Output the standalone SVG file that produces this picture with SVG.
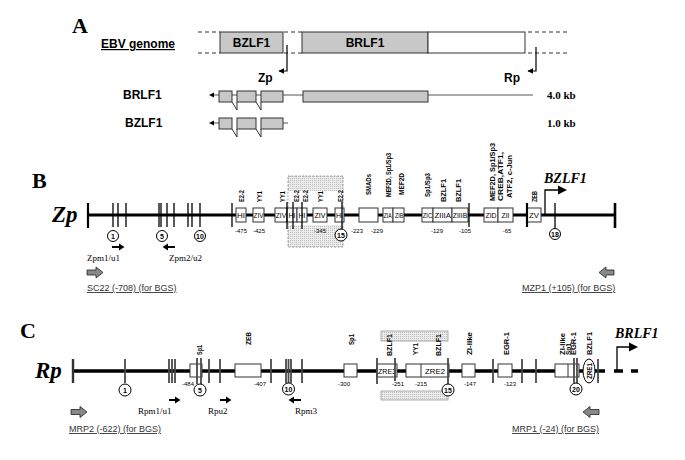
<svg xmlns="http://www.w3.org/2000/svg" width="685" height="460" viewBox="0 0 685 460">
<defs>
<style>
.panel{font-family:"Liberation Serif",serif;font-weight:bold;font-size:22px}
.lab{font-family:"Liberation Sans",Arial,sans-serif;font-weight:bold;font-size:12px}
.kb{font-family:"Liberation Serif",serif;font-weight:bold;font-size:11px}
.prom{font-family:"Liberation Serif",serif;font-weight:bold;font-style:italic;font-size:23px}
.gene{font-family:"Liberation Serif",serif;font-weight:bold;font-style:italic;font-size:14px}
.tf{font-family:"Liberation Sans",Arial,sans-serif;font-weight:bold;font-size:7px}
.pos{font-family:"Liberation Sans",Arial,sans-serif;font-size:6px;text-anchor:middle}
.bx{font-family:"Liberation Sans",Arial,sans-serif;font-size:8px;text-anchor:middle}
.primer{font-family:"Liberation Serif",serif;font-size:9px}
.bgs{font-family:"Liberation Sans",Arial,sans-serif;font-size:9px;fill:#333;text-decoration:underline}
.cn{font-family:"Liberation Sans",Arial,sans-serif;font-weight:bold;font-size:7px;text-anchor:middle}
.gbox{fill:#c8c8c8;stroke:#333;stroke-width:1}
.wbox{fill:#fff;stroke:#333;stroke-width:1}
.tb{stroke:#000;stroke-width:1.3}
.tc{stroke:#4a4a4a;stroke-width:1.8}
.circ{fill:#fff;stroke:#000;stroke-width:1}
.dash{stroke:#333;stroke-width:1;stroke-dasharray:4,3}
.blk{fill:#888;stroke:#222;stroke-width:0.8}
</style>
<marker id="ah" viewBox="0 0 10 10" refX="9" refY="5" markerWidth="5" markerHeight="5" orient="auto-start-reverse" markerUnits="strokeWidth">
<path d="M0,0 L10,5 L0,10 z" fill="#000"/>
</marker>
<pattern id="dots" width="2" height="2" patternUnits="userSpaceOnUse">
<rect width="2" height="2" fill="#ececec"/>
<rect width="1" height="1" fill="#bdbdbd"/>
</pattern>
</defs>
<rect width="685" height="460" fill="#fff"/>

<!-- ============ PANEL A ============ -->
<g id="panelA">
<text class="panel" x="72" y="33">A</text>
<text class="lab" x="101" y="48" text-decoration="underline">EBV genome</text>
<g id="genome">
<line class="dash" x1="198" y1="32" x2="220" y2="32"/>
<line class="dash" x1="198" y1="53" x2="220" y2="53"/>
<line class="dash" x1="284" y1="32" x2="302" y2="32"/>
<line class="dash" x1="284" y1="53" x2="302" y2="53"/>
<line class="dash" x1="528" y1="32" x2="568" y2="32"/>
<line class="dash" x1="528" y1="53" x2="568" y2="53"/>
<rect class="gbox" x="220" y="32" width="63" height="21"/>
<text class="lab" x="251.5" y="47" text-anchor="middle">BZLF1</text>
<rect class="gbox" x="302" y="32" width="126" height="21"/>
<text class="lab" x="365" y="47" text-anchor="middle">BRLF1</text>
<rect class="wbox" x="428" y="32" width="97" height="21"/>
</g>
<g id="zpA">
<path d="M287,45 V71 H279" fill="none" stroke="#000" stroke-width="1.2" marker-end="url(#ah)"/>
<text class="lab" x="258" y="82">Zp</text>
</g>
<g id="rpA">
<path d="M536,47 V71 H528" fill="none" stroke="#000" stroke-width="1.2" marker-end="url(#ah)"/>
<text class="lab" x="504" y="82">Rp</text>
</g>
<g id="brlf1Transcript">
<text class="lab" x="123" y="99">BRLF1</text>
<line x1="213" y1="95" x2="533" y2="95" stroke="#555" stroke-width="1"/>
<polygon points="209,95 214,92.5 214,97.5" fill="#000"/>
<rect class="gbox" x="219" y="91" width="13" height="11"/>
<rect class="gbox" x="237" y="91" width="19" height="11"/>
<rect class="gbox" x="261" y="91" width="22" height="11"/>
<rect class="gbox" x="303" y="91" width="125" height="11"/>
<polyline points="232,102 237,110 237,102" fill="none" stroke="#333" stroke-width="1"/>
<polyline points="256,102 261,110 261,102" fill="none" stroke="#333" stroke-width="1"/>
<text class="kb" x="547" y="99">4.0 kb</text>
</g>
<g id="bzlf1Transcript">
<text class="lab" x="125" y="127">BZLF1</text>
<line x1="213" y1="123" x2="219" y2="123" stroke="#555" stroke-width="1"/>
<line x1="283" y1="123" x2="288" y2="123" stroke="#555" stroke-width="1"/>
<polygon points="209,123 214,120.5 214,125.5" fill="#000"/>
<rect class="gbox" x="219" y="118" width="13" height="11"/>
<rect class="gbox" x="237" y="118" width="19" height="11"/>
<rect class="gbox" x="261" y="118" width="22" height="11"/>
<polyline points="232,129 237,137 237,129" fill="none" stroke="#333" stroke-width="1"/>
<polyline points="256,129 261,137 261,129" fill="none" stroke="#333" stroke-width="1"/>
<text class="kb" x="547" y="127">1.0 kb</text>
</g>
</g>

<!-- ============ PANEL B ============ -->
<g id="panelB">
<text class="panel" x="32" y="188">B</text>
<g id="shadeB">
<rect x="288" y="176" width="55" height="15" fill="url(#dots)"/>
<rect x="288" y="225" width="55" height="22" fill="url(#dots)"/>
<rect x="288" y="176" width="55" height="71" fill="none" stroke="#888" stroke-width="0.8" stroke-dasharray="2,1.5"/>
</g>
<text class="prom" x="52" y="222">Zp</text>
<g id="connectorsB">
<line x1="88" y1="215" x2="615" y2="215" stroke="#000" stroke-width="3"/>
<line x1="88" y1="203" x2="88" y2="228" stroke="#000" stroke-width="2.2"/>
<line x1="615" y1="203" x2="615" y2="228" stroke="#000" stroke-width="2.6"/>
<path d="M545,215 V190 H559" fill="none" stroke="#000" stroke-width="1.3"/>
<polygon points="558,185.5 567,190 558,194.5" fill="#000"/>
</g>
<g id="boxesB">
<rect class="wbox" x="236" y="208" width="10" height="14"/><text class="bx" x="241" y="218" textLength="8" lengthAdjust="spacingAndGlyphs">HI</text>
<rect class="wbox" x="253" y="208" width="11" height="14"/><text class="bx" x="258.5" y="218" textLength="10" lengthAdjust="spacingAndGlyphs">ZIV</text>
<rect class="wbox" x="275" y="208" width="12" height="14"/><text class="bx" x="281" y="218" textLength="10.5" lengthAdjust="spacingAndGlyphs">ZIV</text>
<rect class="wbox" x="287" y="208" width="10" height="14"/><text class="bx" x="292" y="218" textLength="7" lengthAdjust="spacingAndGlyphs">HI</text>
<rect class="wbox" x="297" y="208" width="10" height="14"/><text class="bx" x="302" y="218" textLength="7" lengthAdjust="spacingAndGlyphs">HI</text>
<rect class="wbox" x="313" y="208" width="14" height="14"/><text class="bx" x="320" y="218" textLength="11" lengthAdjust="spacingAndGlyphs">ZIV</text>
<rect class="wbox" x="335" y="208" width="9" height="14"/><text class="bx" x="339.5" y="218" textLength="7" lengthAdjust="spacingAndGlyphs">HI</text>
<rect class="wbox" x="359" y="208" width="19" height="14"/>
<rect class="wbox" x="383" y="208" width="10" height="14"/><text class="bx" x="387.7" y="218" font-size="6" textLength="8" lengthAdjust="spacingAndGlyphs">ZIA</text>
<rect class="wbox" x="393" y="208" width="11" height="14"/><text class="bx" x="399.2" y="218" font-size="6" textLength="8.5" lengthAdjust="spacingAndGlyphs">ZIB</text>
<rect class="wbox" x="422" y="208" width="11" height="14"/><text class="bx" x="427.5" y="218" textLength="9.5" lengthAdjust="spacingAndGlyphs">ZIC</text>
<rect class="wbox" x="433" y="208" width="19" height="14"/><text class="bx" x="442.7" y="218" textLength="16.5" lengthAdjust="spacingAndGlyphs">ZIIIA</text>
<rect class="wbox" x="452" y="208" width="16" height="14"/><text class="bx" x="460" y="218" textLength="14.5" lengthAdjust="spacingAndGlyphs">ZIIIB</text>
<rect class="wbox" x="484" y="208" width="14" height="14"/><text class="bx" x="491" y="218" textLength="11" lengthAdjust="spacingAndGlyphs">ZID</text>
<rect class="wbox" x="498" y="208" width="15" height="14"/><text class="bx" x="505.5" y="218" textLength="8" lengthAdjust="spacingAndGlyphs">ZII</text>
<rect class="wbox" x="527" y="208" width="14" height="14"/><text class="bx" x="534" y="218" textLength="10" lengthAdjust="spacingAndGlyphs">ZV</text>
</g>
<g id="ticksB">
<line class="tb" x1="113" y1="203" x2="113" y2="227"/>
<line class="tb" x1="118" y1="203" x2="118" y2="227"/>
<line class="tb" x1="126" y1="203" x2="126" y2="227"/>
<line class="tb" x1="159" y1="203" x2="159" y2="227"/>
<line class="tb" x1="161" y1="203" x2="161" y2="227"/>
<line class="tb" x1="167" y1="203" x2="167" y2="227"/>
<line class="tb" x1="174" y1="203" x2="174" y2="227"/>
<line class="tb" x1="188" y1="203" x2="188" y2="227"/>
<line class="tb" x1="192" y1="203" x2="192" y2="227"/>
<line class="tb" x1="200" y1="203" x2="200" y2="227"/>
<line class="tb" x1="232" y1="203" x2="232" y2="227"/>
<line class="tb" x1="287" y1="202" x2="287" y2="229"/>
<line class="tb" x1="293" y1="202" x2="293" y2="229"/>
<line class="tb" x1="302" y1="202" x2="302" y2="229"/>
<line class="tb" x1="342" y1="202" x2="342" y2="229"/>
<line class="tb" x1="469" y1="203" x2="469" y2="227"/>
<line x1="527" y1="203" x2="527" y2="227" stroke="#000" stroke-width="2.2"/>
<line class="tb" x1="555" y1="203" x2="555" y2="228"/>
</g>
<g id="tfLabelsB">
<text class="tf" transform="translate(243.5,202) rotate(-90)" textLength="12" lengthAdjust="spacingAndGlyphs">E2-2</text>
<text class="tf" transform="translate(261.5,202) rotate(-90)" textLength="11" lengthAdjust="spacingAndGlyphs">YY1</text>
<text class="tf" transform="translate(284.5,202) rotate(-90)" textLength="11" lengthAdjust="spacingAndGlyphs">YY1</text>
<text class="tf" transform="translate(298.5,202) rotate(-90)" textLength="12" lengthAdjust="spacingAndGlyphs">E2-2</text>
<text class="tf" transform="translate(307.5,202) rotate(-90)" textLength="12" lengthAdjust="spacingAndGlyphs">E2-2</text>
<text class="tf" transform="translate(322.5,202) rotate(-90)" textLength="11" lengthAdjust="spacingAndGlyphs">YY1</text>
<text class="tf" transform="translate(342.5,202) rotate(-90)" textLength="12" lengthAdjust="spacingAndGlyphs">E2-2</text>
<text class="tf" transform="translate(370.5,195) rotate(-90)" textLength="21" lengthAdjust="spacingAndGlyphs">SMADs</text>
<text class="tf" transform="translate(390.5,197) rotate(-90)" textLength="44" lengthAdjust="spacingAndGlyphs">MEF2D, Sp1/Sp3</text>
<text class="tf" transform="translate(403.5,195) rotate(-90)" textLength="22" lengthAdjust="spacingAndGlyphs">MEF2D</text>
<text class="tf" transform="translate(429.5,197) rotate(-90)" textLength="24" lengthAdjust="spacingAndGlyphs">Sp1/Sp3</text>
<text class="tf" transform="translate(445.5,202) rotate(-90)" textLength="23" lengthAdjust="spacingAndGlyphs">BZLF1</text>
<text class="tf" transform="translate(460.5,202) rotate(-90)" textLength="23" lengthAdjust="spacingAndGlyphs">BZLF1</text>
<text class="tf" transform="translate(494.5,201) rotate(-90)" textLength="58" lengthAdjust="spacingAndGlyphs">MEF2D, Sp1/Sp3</text>
<text class="tf" transform="translate(502.5,201) rotate(-90)" textLength="49" lengthAdjust="spacingAndGlyphs">CREB,ATF1,</text>
<text class="tf" transform="translate(511.5,198) rotate(-90)" textLength="43" lengthAdjust="spacingAndGlyphs">ATF2, c-Jun</text>
<text class="tf" transform="translate(536.5,202) rotate(-90)" textLength="11" lengthAdjust="spacingAndGlyphs">ZEB</text>
</g>
<g id="posB">
<text class="pos" x="241" y="233">-475</text>
<text class="pos" x="259" y="233">-425</text>
<text class="pos" x="320" y="233">-345</text>
<text class="pos" x="357" y="233">-223</text>
<text class="pos" x="377" y="233">-229</text>
<text class="pos" x="437" y="233">-129</text>
<text class="pos" x="465" y="233">-105</text>
<text class="pos" x="507" y="233">-65</text>
</g>
<text class="gene" x="544" y="183">BZLF1</text>
<g id="circlesB">
<circle class="circ" cx="113" cy="236" r="5.5"/><text class="cn" x="113" y="238.5">1</text>
<circle class="circ" cx="162" cy="236" r="5.5"/><text class="cn" x="162" y="238.5">5</text>
<circle class="circ" cx="200" cy="236" r="5.5"/><text class="cn" x="200" y="238.5">10</text>
<circle class="circ" cx="341" cy="235" r="6" stroke-width="1.5"/><text class="cn" x="341" y="237.5">15</text>
<circle class="circ" cx="555" cy="234" r="5.5"/><text class="cn" x="555" y="236.5">18</text>
</g>
<g id="primersB">
<polygon points="112,246 119,246 119,243.5 124.5,247 119,250.5 119,248 112,248" fill="#000"/>
<polygon points="175,246 168,246 168,243.5 162.5,247 168,250.5 168,248 175,248" fill="#000"/>
<text class="primer" x="87" y="261">Zpm1/u1</text>
<text class="primer" x="169" y="261">Zpm2/u2</text>
</g>
<g id="bgsB">
<polygon class="blk" points="87,270 96,270 96,267 103,272.5 96,278 96,275 87,275"/>
<text class="bgs" x="87" y="291">SC22 (-708) (for BGS)</text>
<polygon class="blk" points="614,270 606,270 606,267 599,272.5 606,278 606,275 614,275"/>
<text class="bgs" x="522" y="291">MZP1 (+105) (for BGS)</text>
</g>
</g>

<!-- ============ PANEL C ============ -->
<g id="panelC">
<text class="panel" x="20" y="338">C</text>
<g id="shadeC">
<rect x="381" y="331" width="67" height="10" fill="url(#dots)" stroke="#999" stroke-width="0.8"/>
<rect x="381" y="391" width="67" height="9" fill="url(#dots)" stroke="#999" stroke-width="0.8"/>
</g>
<text class="prom" x="35" y="378">Rp</text>
<g id="connectorsC">
<line x1="73" y1="371" x2="605" y2="371" stroke="#000" stroke-width="3.5"/>
<line x1="614" y1="371" x2="623" y2="371" stroke="#000" stroke-width="3.5"/>
<line x1="631" y1="371" x2="638" y2="371" stroke="#000" stroke-width="3.5"/>
<line x1="73" y1="359" x2="73" y2="383" stroke="#333" stroke-width="2.4"/>
<path d="M617,371 V347 H630" fill="none" stroke="#000" stroke-width="1.3"/>
<polygon points="629,342.5 638,347 629,351.5" fill="#000"/>
</g>
<g id="boxesC">
<rect class="wbox" x="190" y="364" width="12" height="13"/>
<rect class="wbox" x="235" y="364" width="26" height="13"/>
<rect class="wbox" x="344" y="364" width="13" height="13"/>
<rect class="wbox" x="377" y="364" width="20" height="13"/><text class="bx" x="387" y="374" textLength="18" lengthAdjust="spacingAndGlyphs">ZRE3</text>
<rect class="wbox" x="406" y="364" width="43" height="13"/>
<line x1="421" y1="364" x2="421" y2="377" stroke="#333" stroke-width="1"/>
<text class="bx" x="435" y="374" textLength="20" lengthAdjust="spacingAndGlyphs">ZRE2</text>
<rect class="wbox" x="462" y="364" width="13" height="13"/>
<rect class="wbox" x="498" y="364" width="14" height="13"/>
<rect class="wbox" x="555" y="364" width="24" height="13"/>
<line x1="568" y1="364" x2="568" y2="377" stroke="#333" stroke-width="1"/>
<ellipse cx="589" cy="371" rx="6" ry="12" fill="#fff" stroke="#000" stroke-width="1"/>
<text class="tf" transform="translate(591.5,379) rotate(-90)" textLength="16" lengthAdjust="spacingAndGlyphs" font-size="7">ZRE1</text>
</g>
<g id="ticksC">
<line class="tc" x1="125" y1="359" x2="125" y2="383"/>
<line class="tc" x1="169" y1="359" x2="169" y2="383"/>
<line class="tc" x1="172" y1="359" x2="172" y2="383"/>
<line class="tc" x1="175" y1="359" x2="175" y2="383"/>
<line class="tc" x1="197" y1="358" x2="197" y2="384"/>
<line class="tc" x1="201" y1="358" x2="201" y2="384"/>
<line class="tc" x1="209" y1="359" x2="209" y2="383"/>
<line class="tc" x1="220" y1="359" x2="220" y2="383"/>
<line class="tc" x1="271" y1="359" x2="271" y2="383"/>
<line class="tc" x1="286" y1="359" x2="286" y2="383"/>
<line class="tc" x1="288.5" y1="359" x2="288.5" y2="383"/>
<line class="tc" x1="291" y1="359" x2="291" y2="383"/>
<line class="tc" x1="302" y1="359" x2="302" y2="383"/>
<line class="tc" x1="377" y1="358" x2="377" y2="384"/>
<line class="tc" x1="395" y1="358" x2="395" y2="381"/>
<line class="tc" x1="448" y1="358" x2="448" y2="384"/>
<line class="tc" x1="493" y1="359" x2="493" y2="383"/>
<line class="tc" x1="522" y1="359" x2="522" y2="383"/>
<line class="tc" x1="536" y1="359" x2="536" y2="383"/>
<line class="tc" x1="574" y1="358" x2="574" y2="383"/>
<line class="tc" x1="577" y1="358" x2="577" y2="383"/>
<line class="tc" x1="598" y1="359" x2="598" y2="383"/>
</g>
<g id="tfLabelsC">
<text class="tf" transform="translate(201.5,355) rotate(-90)" textLength="10" lengthAdjust="spacingAndGlyphs">Sp1</text>
<text class="tf" transform="translate(250.5,345) rotate(-90)" textLength="13" lengthAdjust="spacingAndGlyphs">ZEB</text>
<text class="tf" transform="translate(353.5,345) rotate(-90)" textLength="11" lengthAdjust="spacingAndGlyphs">Sp1</text>
<text class="tf" transform="translate(391.5,356) rotate(-90)" textLength="22" lengthAdjust="spacingAndGlyphs">BZLF1</text>
<text class="tf" transform="translate(418,355) rotate(-90)" textLength="12" lengthAdjust="spacingAndGlyphs">YY1</text>
<text class="tf" transform="translate(440.5,356) rotate(-90)" textLength="22" lengthAdjust="spacingAndGlyphs">BZLF1</text>
<text class="tf" transform="translate(471.5,355) rotate(-90)" textLength="23" lengthAdjust="spacingAndGlyphs">ZI-like</text>
<text class="tf" transform="translate(508.5,355) rotate(-90)" textLength="23" lengthAdjust="spacingAndGlyphs">EGR-1</text>
<text class="tf" transform="translate(565,355) rotate(-90)" textLength="22" lengthAdjust="spacingAndGlyphs">ZI-like</text>
<text class="tf" transform="translate(570.5,355) rotate(-90)" textLength="12" lengthAdjust="spacingAndGlyphs">Sp1</text>
<text class="tf" transform="translate(576,355) rotate(-90)" textLength="23" lengthAdjust="spacingAndGlyphs">EGR-1</text>
<text class="tf" transform="translate(591.5,355) rotate(-90)" textLength="23" lengthAdjust="spacingAndGlyphs">BZLF1</text>
</g>
<g id="posC">
<text class="pos" x="188" y="386">-484</text>
<text class="pos" x="260" y="386">-407</text>
<text class="pos" x="344" y="386">-300</text>
<text class="pos" x="398" y="386">-251</text>
<text class="pos" x="421" y="386">-215</text>
<text class="pos" x="470" y="386">-147</text>
<text class="pos" x="510" y="386">-123</text>
</g>
<text class="gene" x="615" y="338">BRLF1</text>
<g id="circlesC">
<circle class="circ" cx="125" cy="390" r="6"/><text class="cn" x="125" y="392.5">1</text>
<circle class="circ" cx="200" cy="390" r="6"/><text class="cn" x="200" y="392.5">5</text>
<circle class="circ" cx="288.5" cy="389" r="6"/><text class="cn" x="288.5" y="391.5">10</text>
<circle class="circ" cx="448" cy="390" r="6"/><text class="cn" x="448" y="392.5">15</text>
<circle class="circ" cx="576" cy="389" r="6"/><text class="cn" x="576" y="391.5">20</text>
</g>
<g id="primersC">
<polygon points="169,399 175,399 175,396.5 180.5,400 175,403.5 175,401 169,401" fill="#000"/>
<polygon points="220,399 226,399 226,396.5 231.5,400 226,403.5 226,401 220,401" fill="#000"/>
<polygon points="301,399 294,399 294,396.5 288.5,400 294,403.5 294,401 301,401" fill="#000"/>
<text class="primer" x="138" y="414">Rpm1/u1</text>
<text class="primer" x="208" y="414">Rpu2</text>
<text class="primer" x="295" y="414">Rpm3</text>
</g>
<g id="bgsC">
<polygon class="blk" points="71,409.5 80,409.5 80,406.5 87,412 80,417.5 80,414.5 71,414.5"/>
<text class="bgs" x="69" y="432">MRP2 (-622) (for BGS)</text>
<polygon class="blk" points="599,409.5 590,409.5 590,406.5 583,412 590,417.5 590,414.5 599,414.5"/>
<text class="bgs" x="512" y="432">MRP1 (-24) (for BGS)</text>
</g>
</g>
</svg>
